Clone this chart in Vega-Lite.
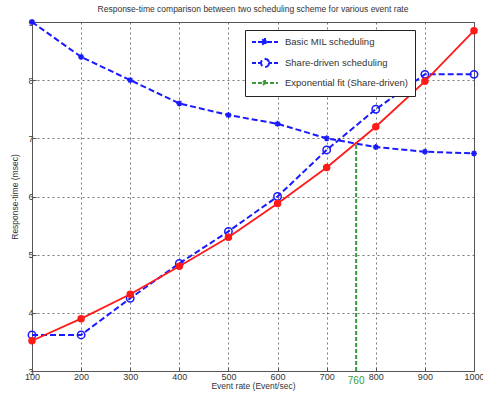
{
  "$schema": "https://vega.github.io/schema/vega-lite/v6.json",
  "width": 442,
  "height": 349,
  "autosize": {"type": "none"},
  "padding": {"left": 32, "top": 22, "right": 9, "bottom": 27},
  "background": "white",
  "title": {"text": "Response-time comparison between two scheduling scheme for various event rate", "fontSize": 8.5, "fontWeight": "normal", "color": "#333", "font": "Liberation Sans", "offset": 3, "anchor": "middle"},
  "config": {
    "view": {"stroke": "#555", "strokeWidth": 1},
    "axis": {
      "labelFont": "Liberation Sans", "titleFont": "Liberation Sans",
      "labelFontSize": 9, "titleFontSize": 8.5, "titleFontWeight": "normal",
      "labelColor": "#333", "titleColor": "#333",
      "domainColor": "#555", "tickColor": "#555", "tickSize": -4,
      "gridColor": "#555", "gridDash": [2, 3], "gridOpacity": 0.8, "gridWidth": 1,
      "labelOverlap": false, "labelFlush": false
    }
  },
  "datasets": {
    "lines": [
      {"x": 100, "y": 9.0, "series": "Basic MIL scheduling"},
      {"x": 200, "y": 8.4, "series": "Basic MIL scheduling"},
      {"x": 300, "y": 8.0, "series": "Basic MIL scheduling"},
      {"x": 400, "y": 7.6, "series": "Basic MIL scheduling"},
      {"x": 500, "y": 7.4, "series": "Basic MIL scheduling"},
      {"x": 600, "y": 7.25, "series": "Basic MIL scheduling"},
      {"x": 700, "y": 7.0, "series": "Basic MIL scheduling"},
      {"x": 800, "y": 6.85, "series": "Basic MIL scheduling"},
      {"x": 900, "y": 6.77, "series": "Basic MIL scheduling"},
      {"x": 1000, "y": 6.74, "series": "Basic MIL scheduling"},
      {"x": 100, "y": 3.62, "series": "Share-driven scheduling"},
      {"x": 200, "y": 3.62, "series": "Share-driven scheduling"},
      {"x": 300, "y": 4.25, "series": "Share-driven scheduling"},
      {"x": 400, "y": 4.85, "series": "Share-driven scheduling"},
      {"x": 500, "y": 5.4, "series": "Share-driven scheduling"},
      {"x": 600, "y": 6.0, "series": "Share-driven scheduling"},
      {"x": 700, "y": 6.8, "series": "Share-driven scheduling"},
      {"x": 800, "y": 7.5, "series": "Share-driven scheduling"},
      {"x": 900, "y": 8.1, "series": "Share-driven scheduling"},
      {"x": 1000, "y": 8.1, "series": "Share-driven scheduling"},
      {"x": 760, "y": 3.0, "series": "Exponential fit (Share-driven)"},
      {"x": 760, "y": 6.93, "series": "Exponential fit (Share-driven)"}
    ],
    "fit": [
      {"x": 100, "y": 3.52},
      {"x": 200, "y": 3.9},
      {"x": 300, "y": 4.32},
      {"x": 400, "y": 4.8},
      {"x": 500, "y": 5.3},
      {"x": 600, "y": 5.88},
      {"x": 700, "y": 6.5},
      {"x": 800, "y": 7.2},
      {"x": 900, "y": 7.98},
      {"x": 1000, "y": 8.85}
    ],
    "mark760": [{"x": 760, "y": 3, "label": "760"}]
  },
  "encoding": {
    "x": {"field": "x", "type": "quantitative", "scale": {"domain": [100, 1000], "nice": false, "zero": false},
      "axis": {"title": "Event rate (Event/sec)", "values": [100,200,300,400,500,600,700,800,900,1000], "format": "d", "labelPadding": 5, "titlePadding": 0}},
    "y": {"field": "y", "type": "quantitative", "scale": {"domain": [3, 9], "nice": false, "zero": false},
      "axis": {"title": "Response-time (msec)", "values": [3,4,5,6,7,8,9], "labelPadding": 3, "titlePadding": 8}}
  },
  "layer": [
    {
      "data": {"name": "lines"},
      "mark": {"type": "line", "clip": true},
      "encoding": {
        "color": {"field": "series", "type": "nominal",
          "scale": {"domain": ["Basic MIL scheduling", "Share-driven scheduling", "Exponential fit (Share-driven)"], "range": ["#1a1aff", "#1a1aff", "#3a9a3a"]},
          "legend": {
            "orient": "none", "legendX": 213, "legendY": 8, "title": null,
            "strokeColor": "#222", "fillColor": "white", "padding": 6,
            "labelFont": "Liberation Sans", "labelFontSize": 9.5, "labelColor": "#333",
            "symbolSize": 100, "rowPadding": 5, "labelOffset": 22,
            "encode": {"symbols": {"update": {
              "shape": {"signal": "datum.value == 'Share-driven scheduling' ? 'M-1,0H-0.2M0.2,0H0.8M2.4,0H3M3.4,0H4.2M2.4,0A0.8,0.8,0,1,1,0.8,0A0.8,0.8,0,1,1,2.4,0' : (datum.value == 'Basic MIL scheduling' ? 'M-1,0H-0.2M0.2,0H3M3.4,0H4.2M1.6,-0.8V0.8M1.05,-0.55L2.15,0.55M1.05,0.55L2.15,-0.55' : 'M-1,0H4.2M1.6,-0.6V0.6M1.2,-0.4L2,0.4M1.2,0.4L2,-0.4')"},
              "strokeDash": {"value": []},
              "strokeWidth": {"signal": "datum.value == 'Exponential fit (Share-driven)' ? 1 : 2"},
              "fill": {"value": "transparent"}
            }}}
          }},
        "strokeDash": {"field": "series", "type": "nominal",
          "scale": {"domain": ["Basic MIL scheduling", "Share-driven scheduling", "Exponential fit (Share-driven)"], "range": [[6, 3], [6, 3], [4, 2]]},
          "legend": null},
        "strokeWidth": {"field": "series", "type": "ordinal",
          "scale": {"domain": ["Basic MIL scheduling", "Share-driven scheduling", "Exponential fit (Share-driven)"], "range": [2, 2, 1]},
          "legend": null}
      }
    },
    {
      "data": {"name": "lines"},
      "transform": [{"filter": "datum.series == 'Basic MIL scheduling'"}],
      "mark": {"type": "point", "shape": "M0,-1V1M-1,0H1M-0.7,-0.7L0.7,0.7M-0.7,0.7L0.7,-0.7", "size": 36, "stroke": "#1a1aff", "strokeWidth": 1.5, "filled": false, "opacity": 1, "clip": false}
    },
    {
      "data": {"name": "lines"},
      "transform": [{"filter": "datum.series == 'Share-driven scheduling'"}],
      "mark": {"type": "point", "shape": "circle", "size": 55, "stroke": "#1a1aff", "strokeWidth": 1.5, "filled": false, "opacity": 1, "clip": false}
    },
    {
      "data": {"name": "fit"},
      "mark": {"type": "line", "color": "#ff1a1a", "strokeWidth": 1.8}
    },
    {
      "data": {"name": "fit"},
      "mark": {"type": "point", "shape": "circle", "size": 30, "fill": "#ff1a1a", "stroke": "#ff1a1a", "filled": true, "opacity": 1, "clip": false}
    },
    {
      "data": {"name": "mark760"},
      "mark": {"type": "text", "color": "#3a9a3a", "font": "Liberation Sans", "fontSize": 10, "baseline": "top", "dy": 5, "align": "center"},
      "encoding": {"text": {"field": "label"}}
    }
  ]
}
